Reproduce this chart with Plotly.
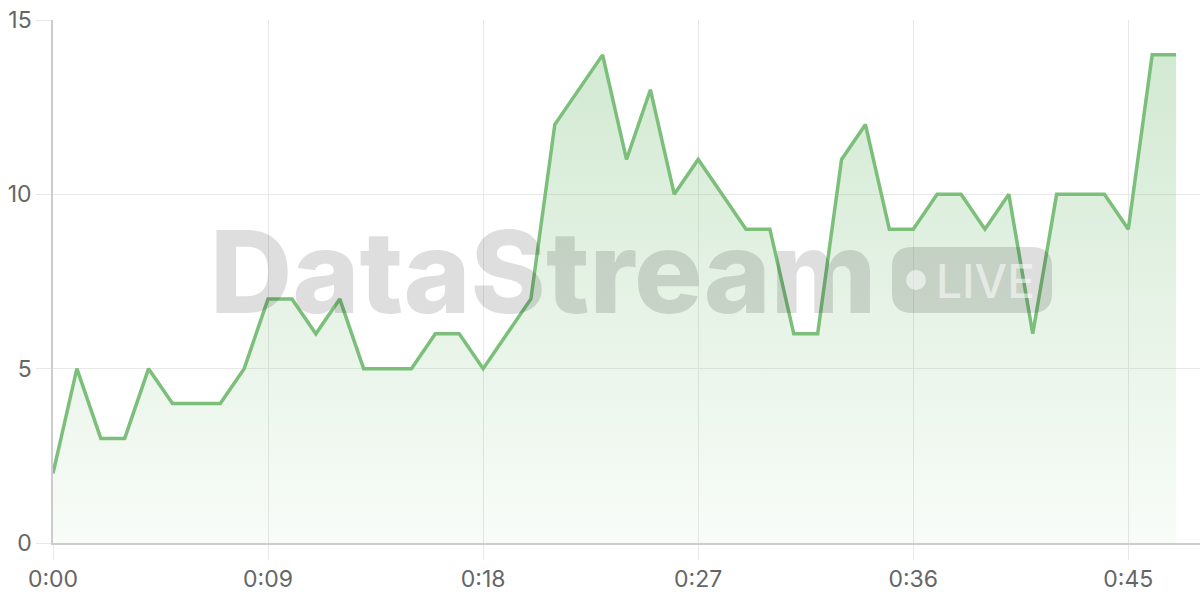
import plotly.graph_objects as go

# one reading per minute, 0:00 .. 0:47
minutes = list(range(48))
values = [2, 5, 3, 3, 5, 4, 4, 4, 5, 7,
          7, 6, 7, 5, 5, 5, 6, 6, 5, 6,
          7, 12, 13, 14, 11, 13, 10, 11, 10, 9,
          9, 6, 6, 11, 12, 9, 9, 10, 10, 9,
          10, 6, 10, 10, 10, 9, 14, 14]

x_tickvals = [0, 9, 18, 27, 36, 45]
x_ticktext = ["0:00", "0:09", "0:18", "0:27", "0:36", "0:45"]
y_tickvals = [0, 5, 10, 15]

W, H = 1200, 600
L, R, T, B = 53, 0, 20, 57
PW, PH = W - L - R, H - T - B


def px_x(p):
    return (p - L) / PW


def px_y(p):
    return (H - B - p) / PH


fig = go.Figure()
fig.add_trace(go.Scatter(
    x=minutes, y=values,
    mode="lines",
    line=dict(color="#7bbf7b", width=3.5),
    fill="tozeroy",
    fillgradient=dict(type="vertical",
                      colorscale=[[0, "rgba(123,191,123,0.05)"],
                                  [1, "rgba(123,191,123,0.34)"]]),
    hoverinfo="skip",
    showlegend=False,
))

# watermark: "DataStream" + LIVE badge
grey = "rgba(0,0,0,0.13)"
fig.add_annotation(
    text="DataStream", xref="paper", yref="paper",
    x=px_x(209), y=px_y(271), xanchor="left", yanchor="middle",
    showarrow=False, borderpad=0,
    font=dict(family="Inter", size=114, weight=800, color=grey),
)

bx0, bx1, by0, by1, r = 892, 1052, 247, 313, 20
path = (
    f"M {px_x(bx0 + r)} {px_y(by0)} "
    f"L {px_x(bx1 - r)} {px_y(by0)} "
    f"Q {px_x(bx1)} {px_y(by0)} {px_x(bx1)} {px_y(by0 + r)} "
    f"L {px_x(bx1)} {px_y(by1 - r)} "
    f"Q {px_x(bx1)} {px_y(by1)} {px_x(bx1 - r)} {px_y(by1)} "
    f"L {px_x(bx0 + r)} {px_y(by1)} "
    f"Q {px_x(bx0)} {px_y(by1)} {px_x(bx0)} {px_y(by1 - r)} "
    f"L {px_x(bx0)} {px_y(by0 + r)} "
    f"Q {px_x(bx0)} {px_y(by0)} {px_x(bx0 + r)} {px_y(by0)} Z"
)
fig.add_shape(type="path", path=path, xref="paper", yref="paper",
              fillcolor=grey, line=dict(width=0), layer="above")
fig.add_shape(type="circle", xref="paper", yref="paper",
              x0=px_x(906), x1=px_x(926), y0=px_y(270), y1=px_y(290),
              fillcolor="rgba(255,255,255,0.55)", line=dict(width=0))
fig.add_annotation(
    text="LIVE", xref="paper", yref="paper",
    x=px_x(935), y=px_y(281), xanchor="left", yanchor="middle",
    showarrow=False, borderpad=0,
    font=dict(family="Inter", size=46, weight=500, color="rgba(255,255,255,0.55)"),
)

axis_font = dict(family="Inter, Liberation Sans, Arial, sans-serif", size=23, color="#666666")

fig.update_xaxes(
    range=[0, 48], tickvals=x_tickvals, ticktext=x_ticktext,
    showgrid=True, gridcolor="#e8e8e8", gridwidth=1,
    ticks="outside", ticklen=15, tickcolor="#e8e8e8",
    showline=True, linecolor="#cccccc", linewidth=1.5,
    zeroline=False, tickfont=axis_font, automargin=False,
)
fig.update_yaxes(
    range=[0, 15], tickvals=y_tickvals,
    showgrid=True, gridcolor="#e8e8e8", gridwidth=1,
    ticks="outside", ticklen=15, tickcolor="#e8e8e8",
    showline=True, linecolor="#cccccc", linewidth=1.5,
    zeroline=False, tickfont=axis_font, automargin=False,
)

fig.update_layout(
    width=W, height=H,
    margin=dict(l=L, r=R, t=T, b=B),
    plot_bgcolor="white", paper_bgcolor="white",
)

# page body has a default 8px margin; drop it so the figure fills the window
fig.write_html("out.html", config={"displayModeBar": False},
               post_script="document.body.style.margin='0';")
